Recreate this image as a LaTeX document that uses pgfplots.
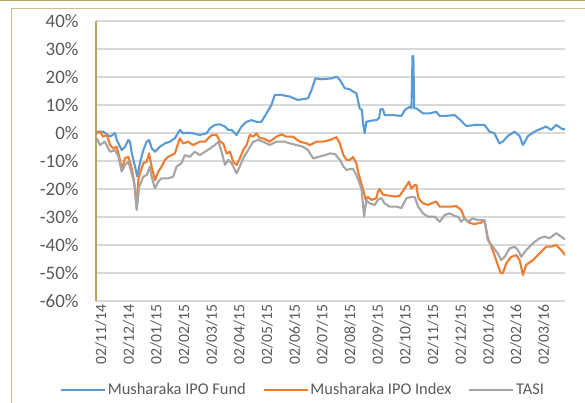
\documentclass[border=0pt]{standalone}
\usepackage{pgfplots}
\pgfplotsset{compat=1.18}
\usepackage{fontspec}
\setmainfont{Carlito}
\definecolor{cblue}{RGB}{91,155,213}
\definecolor{corange}{RGB}{237,125,49}
\definecolor{cgray}{RGB}{165,165,165}
\definecolor{ctext}{RGB}{89,89,89}
\definecolor{cgrid}{RGB}{217,217,217}
\definecolor{ctan}{RGB}{190,160,100}

\pgfplotstableread[row sep=\\]{
x y\\
0.03 0.5\\ 0.25 0.5\\ 0.51 -1.3\\ 0.69 0.0\\ 0.75 -2.5\\ 0.93 -6.1\\ 1.05 -4.9\\ 1.17 -2.5\\ 1.23 -3.1\\ 1.29 -7.1\\
1.41 -12.0\\ 1.49 -15.5\\ 1.59 -10.7\\ 1.71 -6.1\\ 1.83 -3.1\\ 1.92 -2.5\\ 2.01 -5.4\\ 2.13 -6.7\\ 2.31 -4.9\\ 2.49 -3.7\\
2.67 -3.1\\ 2.85 -1.9\\ 3.03 1.1\\ 3.15 -0.1\\ 3.33 0.1\\ 3.51 -0.1\\ 3.75 -0.7\\ 4.00 -0.1\\ 4.12 1.7\\ 4.30 2.9\\
4.48 3.1\\ 4.66 2.3\\ 4.78 1.1\\ 4.90 1.1\\ 5.08 -0.7\\ 5.26 2.3\\ 5.44 4.0\\ 5.62 4.6\\ 5.80 4.0\\ 5.98 4.0\\
6.16 7.0\\ 6.34 10.0\\ 6.46 13.6\\ 6.70 13.6\\ 7.00 13.0\\ 7.30 11.8\\ 7.66 12.4\\ 7.79 15.4\\ 7.91 18.9\\ 7.92 19.5\\
8.16 19.2\\ 8.52 19.5\\ 8.70 20.1\\ 8.82 18.9\\ 8.99 16.0\\ 9.17 15.6\\ 9.29 14.8\\ 9.41 14.2\\ 9.53 8.8\\ 9.61 8.2\\
9.65 3.5\\ 9.71 -0.1\\ 9.77 4.0\\ 9.95 4.4\\ 10.13 4.6\\ 10.23 5.3\\ 10.28 8.5\\ 10.37 8.5\\ 10.43 6.4\\ 10.73 6.4\\
11.04 6.1\\ 11.16 8.2\\ 11.34 9.4\\ 11.40 8.8\\ 11.44 27.5\\ 11.47 27.5\\ 11.50 8.8\\ 11.58 8.8\\ 11.82 7.0\\ 12.06 7.0\\
12.30 7.6\\ 12.42 6.1\\ 12.60 6.1\\ 12.96 6.4\\ 13.14 4.9\\ 13.38 2.5\\ 13.74 2.9\\ 14.04 2.9\\ 14.22 0.5\\ 14.40 -0.1\\
14.58 -3.7\\ 14.70 -3.1\\ 14.88 -1.1\\ 15.13 0.5\\ 15.31 -1.1\\ 15.43 -4.3\\ 15.61 -1.1\\ 15.85 0.5\\ 16.03 1.3\\ 16.27 2.3\\
16.45 1.1\\ 16.63 2.9\\ 16.87 1.3\\ 16.96 1.5\\
}\fund

\pgfplotstableread[row sep=\\]{
x y\\
0.03 -0.1\\ 0.14 0.5\\ 0.26 -1.3\\ 0.39 -0.7\\ 0.51 -4.3\\ 0.62 -5.5\\ 0.75 -4.9\\ 0.87 -9.6\\ 0.93 -13.2\\ 1.05 -9.0\\
1.17 -8.5\\ 1.29 -12.6\\ 1.37 -16.8\\ 1.47 -26.9\\ 1.53 -16.8\\ 1.59 -14.4\\ 1.71 -10.8\\ 1.83 -10.3\\ 1.92 -7.3\\ 2.01 -12.0\\
2.13 -16.8\\ 2.25 -13.8\\ 2.37 -12.0\\ 2.49 -9.6\\ 2.61 -8.5\\ 2.73 -7.9\\ 2.85 -7.3\\ 3.03 -1.9\\ 3.15 -3.7\\ 3.33 -3.1\\
3.51 -4.3\\ 3.75 -3.1\\ 3.94 -3.1\\ 4.18 -0.7\\ 4.36 -0.7\\ 4.48 -3.1\\ 4.60 -3.7\\ 4.72 -7.3\\ 4.84 -6.7\\ 4.96 -10.3\\
5.08 -11.4\\ 5.20 -9.0\\ 5.32 -6.1\\ 5.44 -4.3\\ 5.56 -0.7\\ 5.68 -1.3\\ 5.80 -0.1\\ 5.92 -1.9\\ 6.04 -1.9\\ 6.28 -3.1\\
6.52 -1.3\\ 6.70 -0.5\\ 6.88 -1.3\\ 7.12 -1.3\\ 7.36 -3.1\\ 7.61 -3.7\\ 7.73 -4.3\\ 7.97 -3.1\\ 8.21 -3.1\\ 8.45 -2.5\\
8.69 -1.5\\ 8.81 -3.7\\ 8.94 -7.9\\ 9.06 -9.6\\ 9.17 -9.6\\ 9.29 -8.6\\ 9.41 -10.8\\ 9.47 -13.8\\ 9.59 -18.0\\ 9.69 -21.5\\
9.75 -23.9\\ 9.83 -22.8\\ 9.95 -23.9\\ 10.13 -23.3\\ 10.19 -21.0\\ 10.25 -20.0\\ 10.37 -22.0\\ 10.55 -22.3\\ 10.79 -22.7\\ 10.97 -22.5\\
11.16 -19.8\\ 11.31 -17.4\\ 11.40 -19.8\\ 11.52 -18.6\\ 11.58 -18.6\\ 11.64 -22.8\\ 11.70 -23.9\\ 11.82 -25.1\\ 12.00 -25.7\\ 12.12 -25.1\\
12.30 -24.5\\ 12.42 -26.3\\ 12.60 -26.3\\ 12.84 -26.3\\ 13.02 -26.1\\ 13.20 -27.5\\ 13.32 -30.5\\ 13.50 -32.1\\ 13.68 -32.5\\ 13.92 -32.0\\
14.04 -31.1\\ 14.16 -37.5\\ 14.29 -40.6\\ 14.40 -43.6\\ 14.52 -47.1\\ 14.62 -49.9\\ 14.70 -50.1\\ 14.83 -46.5\\ 15.01 -44.2\\ 15.19 -43.6\\
15.31 -45.4\\ 15.43 -50.7\\ 15.55 -47.1\\ 15.79 -45.4\\ 16.03 -43.0\\ 16.27 -40.6\\ 16.45 -40.6\\ 16.63 -40.0\\ 16.81 -41.8\\ 16.96 -43.6\\
}\index

\pgfplotstableread[row sep=\\]{
x y\\
0.03 -1.9\\ 0.14 -4.3\\ 0.32 -3.1\\ 0.51 -6.7\\ 0.69 -6.1\\ 0.81 -8.5\\ 0.93 -13.8\\ 1.05 -11.4\\ 1.17 -10.3\\ 1.29 -14.4\\
1.41 -19.2\\ 1.47 -27.5\\ 1.56 -19.2\\ 1.71 -15.6\\ 1.83 -15.0\\ 1.95 -12.0\\ 2.01 -15.6\\ 2.13 -19.8\\ 2.25 -17.4\\ 2.37 -16.2\\
2.61 -16.2\\ 2.79 -15.6\\ 2.91 -12.0\\ 3.09 -10.8\\ 3.21 -7.9\\ 3.39 -8.5\\ 3.57 -6.7\\ 3.75 -7.9\\ 3.94 -6.7\\ 4.12 -5.5\\
4.30 -4.3\\ 4.42 -3.1\\ 4.54 -6.7\\ 4.66 -11.4\\ 4.78 -9.6\\ 4.90 -10.8\\ 5.08 -14.4\\ 5.20 -12.0\\ 5.32 -9.0\\ 5.50 -6.1\\
5.68 -3.1\\ 5.86 -2.5\\ 6.04 -3.1\\ 6.28 -4.3\\ 6.52 -3.1\\ 6.82 -3.1\\ 7.00 -3.7\\ 7.25 -4.3\\ 7.48 -4.9\\ 7.66 -6.1\\
7.85 -9.1\\ 8.04 -8.5\\ 8.28 -7.9\\ 8.46 -7.3\\ 8.64 -7.5\\ 8.75 -8.9\\ 8.82 -9.6\\ 8.94 -12.0\\ 9.06 -13.2\\ 9.17 -12.9\\
9.29 -12.9\\ 9.41 -15.0\\ 9.53 -18.0\\ 9.60 -20.4\\ 9.69 -29.9\\ 9.77 -24.1\\ 9.89 -25.1\\ 10.07 -25.7\\ 10.19 -23.9\\ 10.31 -23.2\\
10.43 -25.1\\ 10.61 -26.3\\ 10.86 -26.3\\ 11.04 -26.8\\ 11.22 -23.3\\ 11.40 -22.8\\ 11.52 -22.9\\ 11.64 -26.3\\ 11.82 -28.7\\ 12.00 -29.9\\
12.24 -29.9\\ 12.42 -31.7\\ 12.60 -29.3\\ 12.78 -28.7\\ 12.96 -29.6\\ 13.08 -29.9\\ 13.20 -31.7\\ 13.32 -30.5\\ 13.44 -31.7\\ 13.62 -30.5\\
13.80 -31.1\\ 14.04 -31.1\\ 14.16 -38.2\\ 14.34 -40.6\\ 14.52 -43.0\\ 14.65 -45.4\\ 14.77 -44.2\\ 14.95 -41.2\\ 15.13 -40.6\\ 15.25 -41.8\\
15.37 -44.2\\ 15.55 -41.8\\ 15.79 -39.4\\ 16.03 -37.6\\ 16.21 -37.0\\ 16.39 -37.6\\ 16.63 -35.8\\ 16.81 -37.0\\ 16.96 -38.0\\
}\tasi

\begin{document}
\begin{tikzpicture}[x=1pt,y=1pt]
\useasboundingbox (0,-403) rectangle (585,0);
\draw[ctan, line width=1.2pt] (0,-0.6) -- (585,-0.6);
\draw[ctan!70, line width=0.9pt] (11,-403) -- (11,-8) -- (585,-8);
\begin{axis}[
  at={(96pt,-301pt)}, anchor=south west,
  scale only axis, width=469pt, height=280pt,
  xmin=0, xmax=16.95, ymin=-60, ymax=40,
  axis lines*=left,
  x axis line style={draw=cgrid, line width=1.2pt},
  y axis line style={draw=ctan, line width=1.2pt},
  major tick length=0pt,
  ymajorgrids, grid style={cgrid, line width=1.2pt},
  ytick={-60,-50,-40,-30,-20,-10,0,10,20,30,40},
  yticklabels={-60\%,-50\%,-40\%,-30\%,-20\%,-10\%,0\%,10\%,20\%,30\%,40\%},
  y tick label style={font=\fontsize{19}{20}\selectfont, text=ctext, xshift=-14pt},
  xtick={0,1,...,16},
  xticklabels={02/11/14,02/12/14,02/01/15,02/02/15,02/03/15,02/04/15,02/05/15,02/06/15,02/07/15,02/08/15,02/09/15,02/10/15,02/11/15,02/12/15,02/01/16,02/02/16,02/03/16},
  x tick label style={rotate=90, anchor=east, font=\fontsize{15.7}{16}\selectfont, text=ctext, yshift=-5pt},
  legend columns=3,
  legend style={draw=none, fill=none, inner sep=0pt,
    at={(axis description cs:-0.0768,-0.318)}, anchor=west,
    font=\fontsize{16.4}{17}\selectfont, text=ctext,
    /tikz/every even column/.append style={column sep=15pt}},
  legend image code/.code={\draw[#1, line width=1.6pt] (0pt,0pt) -- (44pt,0pt);},
  every axis plot/.append style={line width=2.1pt, line join=round},
]
\addplot[cblue] table[x=x,y=y] {\fund};
\addplot[corange] table[x=x,y=y] {\index};
\addplot[cgray] table[x=x,y=y] {\tasi};
\legend{Musharaka IPO Fund, Musharaka IPO Index, TASI}
\end{axis}
\end{tikzpicture}
\end{document}
